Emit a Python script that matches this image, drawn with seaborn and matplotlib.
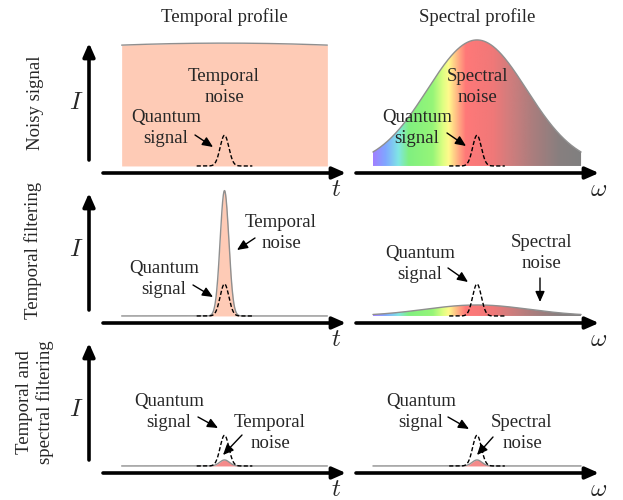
import numpy as np
import matplotlib.pyplot as plt
import seaborn as sns
from matplotlib.colors import LinearSegmentedColormap

# ---- chart content ----
col_titles = ["Temporal profile", "Spectral profile"]
row_labels = ["Noisy signal", "Temporal filtering", "Temporal and\nspectral filtering"]
axis_symbols = [r"$t$", r"$\omega$"]

# gaussian bumps (height, width) in panel units, one entry per row
signal_height = [0.24, 0.25, 0.24]
signal_width = [0.036, 0.036, 0.036]
temporal_noise_height = [0.96, 0.98, 0.047]
temporal_noise_width = [4.7, 0.036, 0.04]
spectral_noise_height = [0.985, 0.086, 0.047]
spectral_noise_width = [0.41, 0.43, 0.04]
signal_span = 0.23
noise_span = [0.85, 0.86]

# annotations per row: (label, text position, arrow tail, arrow tip), pixel coords
notes_left = [
    [("Temporal\nnoise", (224, 87), None, None),
     ("Quantum\nsignal", (166, 128), (195, 135), (213, 147))],
    [("Temporal\nnoise", (281, 233), (255, 238), (237, 250)),
     ("Quantum\nsignal", (164, 279), (193, 285), (213, 297))],
    [("Quantum\nsignal", (169, 412), (198, 417), (218, 428)),
     ("Temporal\nnoise", (270, 433), (242, 435), (223, 455))],
]
notes_right = [
    [("Spectral\nnoise", (477, 87), None, None),
     ("Quantum\nsignal", (417, 128), (447, 133), (466, 146))],
    [("Quantum\nsignal", (420, 264), (448, 268), (468, 282)),
     ("Spectral\nnoise", (541, 253), (540, 278), (540, 302))],
    [("Quantum\nsignal", (421, 412), (448, 417), (469, 429)),
     ("Spectral\nnoise", (522, 433), (493, 437), (477, 455))],
]

# ---- style ----
sns.set_theme(style="white")
plt.rcParams["font.family"] = ["Liberation Serif", "DejaVu Serif"]
plt.rcParams["mathtext.fontset"] = "cm"

salmon = "#FECBB6"
coral = "#F48A8A"
grey = "#8f8f8f"
spectrum = LinearSegmentedColormap.from_list("spectrum", [
    (0.00, "#A080FF"), (0.06, "#7FA8FF"), (0.12, "#80E6E6"), (0.17, "#80F080"),
    (0.285, "#96F578"), (0.333, "#DCFF82"), (0.362, "#FFFA8C"), (0.41, "#FFAA82"),
    (0.444, "#FF7878"), (0.575, "#F07878"), (0.652, "#D27D7D"), (0.768, "#AA7D7D"),
    (0.894, "#877F7F"), (1.00, "#808080")])

W, H = 623, 500
fig = plt.figure(figsize=(W / 100, H / 100), dpi=100)

arrow_y = [173, 323, 473]
centers = [224.5, 477]


def panel(col, row):
    c = centers[col]
    a = arrow_y[row]
    ax = fig.add_axes([(c - 121) / W, 1 - a / H, 242 / W, 135 / H])
    ax.set_xlim(-1, 1)
    ax.set_ylim(-0.055, 1.0)
    ax.axis("off")
    return ax


def draw_noise(ax, span, height, width, fill):
    x = np.linspace(-span, span, 800)
    y = height * np.exp(-x ** 2 / (2 * width ** 2))
    if fill == "rainbow":
        poly = ax.fill_between(x, 0, y, color="none", lw=0)
        im = ax.imshow(np.linspace(0, 1, 256)[None, :], cmap=spectrum, aspect="auto",
                       extent=[-span, span, 0, height], origin="lower", zorder=1)
        im.set_clip_path(poly.get_paths()[0], transform=ax.transData)
        ax.set_xlim(-1, 1)
        ax.set_ylim(-0.055, 1.0)
    else:
        ax.fill_between(x, 0, y, color=fill, lw=0, zorder=1)
    sns.lineplot(x=x, y=y, ax=ax, color=grey, lw=1, zorder=2)


def draw_signal(ax, height, width):
    x = np.linspace(-signal_span, signal_span, 300)
    y = height * np.exp(-x ** 2 / (2 * width ** 2))
    sns.lineplot(x=x, y=y, ax=ax, color="black", lw=1.0,
                 linestyle=(0, (3, 1.6)), zorder=3)


for r in range(3):
    axl = panel(0, r)
    fill_l = salmon if r < 2 else coral
    draw_noise(axl, noise_span[0], temporal_noise_height[r], temporal_noise_width[r], fill_l)
    draw_signal(axl, signal_height[r], signal_width[r])

    axr = panel(1, r)
    fill_r = "rainbow" if r < 2 else coral
    draw_noise(axr, noise_span[1], spectral_noise_height[r], spectral_noise_width[r], fill_r)
    draw_signal(axr, signal_height[r], signal_width[r])

# overlay in pixel coordinates for arrows and text
ov = fig.add_axes([0, 0, 1, 1], zorder=10)
ov.set_xlim(0, W)
ov.set_ylim(H, 0)
ov.axis("off")
ov.patch.set_alpha(0)

big = dict(arrowstyle="-|>,head_length=0.5,head_width=0.22", lw=2.6, color="black",
           mutation_scale=16, shrinkA=0, shrinkB=0)
small = dict(arrowstyle="-|>,head_length=0.45,head_width=0.2", lw=1.0, color="black",
             mutation_scale=14, shrinkA=0, shrinkB=0)

fs = 13.5
for c, title in enumerate(col_titles):
    ov.text(centers[c], 17, title, ha="center", va="center", fontsize=fs)

label_pos = [(36, 103), (33, 250), (35, 402)]
for r in range(3):
    a = arrow_y[r]
    # axes arrows
    ov.annotate("", xy=(89, a - 130), xytext=(89, a - 13), arrowprops=big)
    ov.annotate("", xy=(346, a), xytext=(103, a), arrowprops=big)
    ov.annotate("", xy=(599, a), xytext=(356, a), arrowprops=big)
    ov.text(76, [103, 250, 410][r], r"$I$", ha="center", va="center", fontsize=18)
    ov.text(336, a + 17, axis_symbols[0], ha="center", va="center", fontsize=18)
    ov.text(599, a + 17, axis_symbols[1], ha="center", va="center", fontsize=18)
    ov.text(*label_pos[r], row_labels[r], rotation=90, ha="center", va="center",
            fontsize=fs, linespacing=1.2)
    for label, pos, tail, tip in notes_left[r] + notes_right[r]:
        ov.text(*pos, label, ha="center", va="center", fontsize=fs, linespacing=1.25)
        if tail is not None:
            ov.annotate("", xy=tip, xytext=tail, arrowprops=small)

fig.savefig("out.png", dpi=100)
